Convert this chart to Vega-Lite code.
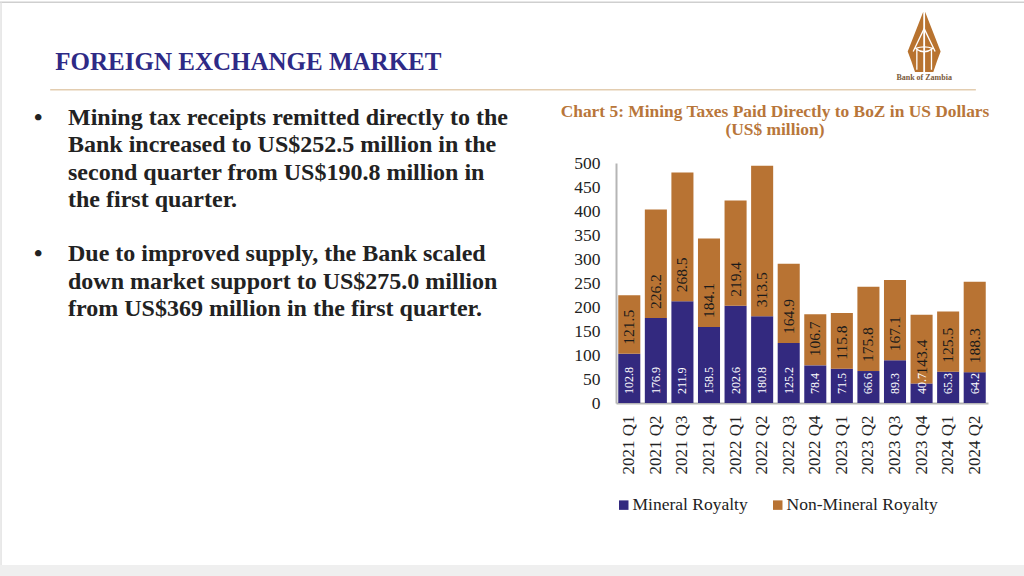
{
"$schema":"https://vega.github.io/schema/vega-lite/v6.json",
"width":372,"height":240,
"autosize":"none",
"padding":{"left":616,"top":163,"right":36,"bottom":173},
"background":"#ffffff",
"config":{"view":{"stroke":null},"font":"Liberation Serif"},
"title":{"text":["Chart 5: Mining Taxes Paid Directly to BoZ in US Dollars","(US$ million)"],"font":"Liberation Serif","fontSize":17.4,"fontWeight":"bold","color":"#B8763A","anchor":"middle","frame":"group","dx":-27,"offset":0,"dy":137,"lineHeight":18},
"resolve":{"scale":{"x":"independent","y":"independent"}},
"layer":[
{"data":{"values":[{"part":"bottom band"}]},"mark":{"type":"rect","color":"#EFEFEF"},
 "encoding":{"x":{"datum":0,"type":"quantitative","scale":{"domain":[0,1],"range":[-616,408]},"axis":null},"x2":{"datum":1},"y":{"datum":0.981,"type":"quantitative","scale":{"domain":[0,1],"range":[-163,413]},"axis":null},"y2":{"datum":1}}},
{"data":{"values":[{"part":"top edge"}]},"mark":{"type":"rule","color":"#CFCFCF","strokeWidth":1.5},
 "encoding":{"x":{"datum":0,"type":"quantitative","scale":{"domain":[0,1],"range":[-616,408]},"axis":null},"x2":{"datum":1},"y":{"datum":0.004,"type":"quantitative","scale":{"domain":[0,1],"range":[-163,413]},"axis":null}}},
{"data":{"values":[{"part":"left edge"}]},"mark":{"type":"rule","color":"#E2E2E2","strokeWidth":1.5},
 "encoding":{"x":{"datum":0.001,"type":"quantitative","scale":{"domain":[0,1],"range":[-616,408]},"axis":null},"y":{"datum":0.004,"type":"quantitative","scale":{"domain":[0,1],"range":[-163,413]},"axis":null},"y2":{"datum":0.981}}},
{"data":{"values":[{"part":"heading rule"}]},"mark":{"type":"rule","color":"#E3CDB0","strokeWidth":1.5},
 "encoding":{"x":{"datum":0.049,"type":"quantitative","scale":{"domain":[0,1],"range":[-616,408]},"axis":null},"x2":{"datum":0.953},"y":{"datum":0.156,"type":"quantitative","scale":{"domain":[0,1],"range":[-163,413]},"axis":null}}},
{"data":{"values":[{"part":"logo"}]},"mark":{"type":"point","filled":true,"color":"#B8732F","opacity":1,"size":3720,"shape":"M-0.03,-1L-0.54,0.3L-0.42,0.62L-0.3,0.97L-0.03,0.97ZM0.03,-1L0.54,0.3L0.42,0.62L0.3,0.97L0.03,0.97Z"},
 "encoding":{"x":{"datum":0.9025,"type":"quantitative","scale":{"domain":[0,1],"range":[-616,408]},"axis":null},"y":{"datum":0.0735,"type":"quantitative","scale":{"domain":[0,1],"range":[-163,413]},"axis":null}}},
{"data":{"values":[{"part":"logo detail"}]},"mark":{"type":"point","filled":false,"color":"#FFFFFF","opacity":1,"strokeWidth":1.3,"size":3720,"shape":"M-0.36,0.3L0,-0.45L0.36,0.3M-0.24,0.22L-0.24,0.9M0.24,0.22L0.24,0.9M-0.28,0.2Q0,0.1 0.28,0.2Q0,0.42 -0.28,0.2"},
 "encoding":{"x":{"datum":0.9025,"type":"quantitative","scale":{"domain":[0,1],"range":[-616,408]},"axis":null},"y":{"datum":0.0735,"type":"quantitative","scale":{"domain":[0,1],"range":[-163,413]},"axis":null}}},
{"data":{"values":[{"label":"Bank of Zambia"}]},"mark":{"type":"text","font":"Liberation Serif","fontWeight":"bold","fontSize":8,"color":"#7A5A3A","align":"center","baseline":"middle"},
 "encoding":{"text":{"field":"label"},"x":{"datum":0.9025,"type":"quantitative","scale":{"domain":[0,1],"range":[-616,408]},"axis":null},"y":{"datum":0.136,"type":"quantitative","scale":{"domain":[0,1],"range":[-163,413]},"axis":null}}},
{"data":{"values":[{"label":"FOREIGN EXCHANGE MARKET"}]},"mark":{"type":"text","font":"Liberation Serif","fontWeight":"bold","fontSize":25,"color":"#2E2A86","align":"left","baseline":"middle"},
 "encoding":{"text":{"field":"label"},"x":{"datum":0.054,"type":"quantitative","scale":{"domain":[0,1],"range":[-616,408]},"axis":null},"y":{"datum":0.108,"type":"quantitative","scale":{"domain":[0,1],"range":[-163,413]},"axis":null}}},
{"data":{"values":[
{"line":1,"role":"bullet","t":"•"},{"line":6,"role":"bullet","t":"•"},
{"line":1,"role":"text","t":"Mining tax receipts remitted directly to the"},
{"line":2,"role":"text","t":"Bank increased to US$252.5 million in the"},
{"line":3,"role":"text","t":"second quarter from US$190.8 million in"},
{"line":4,"role":"text","t":"the first quarter."},
{"line":6,"role":"text","t":"Due to improved supply, the Bank scaled"},
{"line":7,"role":"text","t":"down market support to US$275.0 million"},
{"line":8,"role":"text","t":"from US$369 million in the first quarter."}
]},
"mark":{"type":"text","font":"Liberation Serif","fontWeight":"bold","fontSize":24,"color":"#222222","align":"left","baseline":"middle"},
 "encoding":{"text":{"field":"t"},
 "x":{"field":"role","type":"nominal","scale":{"type":"point","padding":0,"domain":["bullet","text"],"range":[-582,-548]},"axis":null},
 "y":{"field":"line","type":"quantitative","scale":{"domain":[1,8],"range":[-45,146]},"axis":null}}},
{"data":{"values":[
{"quarter":"2021 Q1","series":"Mineral Royalty","value":102.8},{"quarter":"2021 Q2","series":"Mineral Royalty","value":176.9},{"quarter":"2021 Q3","series":"Mineral Royalty","value":211.9},{"quarter":"2021 Q4","series":"Mineral Royalty","value":158.5},{"quarter":"2022 Q1","series":"Mineral Royalty","value":202.6},{"quarter":"2022 Q2","series":"Mineral Royalty","value":180.8},{"quarter":"2022 Q3","series":"Mineral Royalty","value":125.2},{"quarter":"2022 Q4","series":"Mineral Royalty","value":78.4},{"quarter":"2023 Q1","series":"Mineral Royalty","value":71.5},{"quarter":"2023 Q2","series":"Mineral Royalty","value":66.6},{"quarter":"2023 Q3","series":"Mineral Royalty","value":89.3},{"quarter":"2023 Q4","series":"Mineral Royalty","value":40.7},{"quarter":"2024 Q1","series":"Mineral Royalty","value":65.3},{"quarter":"2024 Q2","series":"Mineral Royalty","value":64.2},
{"quarter":"2021 Q1","series":"Non-Mineral Royalty","value":121.5},{"quarter":"2021 Q2","series":"Non-Mineral Royalty","value":226.2},{"quarter":"2021 Q3","series":"Non-Mineral Royalty","value":268.5},{"quarter":"2021 Q4","series":"Non-Mineral Royalty","value":184.1},{"quarter":"2022 Q1","series":"Non-Mineral Royalty","value":219.4},{"quarter":"2022 Q2","series":"Non-Mineral Royalty","value":313.5},{"quarter":"2022 Q3","series":"Non-Mineral Royalty","value":164.9},{"quarter":"2022 Q4","series":"Non-Mineral Royalty","value":106.7},{"quarter":"2023 Q1","series":"Non-Mineral Royalty","value":115.8},{"quarter":"2023 Q2","series":"Non-Mineral Royalty","value":175.8},{"quarter":"2023 Q3","series":"Non-Mineral Royalty","value":167.1},{"quarter":"2023 Q4","series":"Non-Mineral Royalty","value":143.4},{"quarter":"2024 Q1","series":"Non-Mineral Royalty","value":125.5},{"quarter":"2024 Q2","series":"Non-Mineral Royalty","value":188.3}
]},
"transform":[{"stack":"value","groupby":["quarter"],"sort":[{"field":"series","order":"ascending"}],"as":["v0","v1"]}],
"encoding":{
 "x":{"field":"quarter","type":"nominal","title":null,"scale":{"paddingInner":0.17,"paddingOuter":0.085},
  "axis":{"labelAngle":270,"labelFont":"Liberation Serif","labelFontSize":17,"labelColor":"#222222","labelPadding":12,"ticks":false,"domainColor":"#B5B5B5","domainWidth":2,"grid":false}},
 "y":{"field":"v0","type":"quantitative","title":null,"scale":{"domain":[0,500],"nice":false},
  "axis":{"values":[0,50,100,150,200,250,300,350,400,450,500],"labelFont":"Liberation Serif","labelFontSize":17.5,"labelColor":"#222222","labelPadding":16,"ticks":false,"domainColor":"#B5B5B5","domainWidth":2,"grid":false}}
},
"layer":[
 {"mark":{"type":"bar"},
  "encoding":{"y2":{"field":"v1"},
   "color":{"field":"series","type":"nominal","title":null,"scale":{"domain":["Mineral Royalty","Non-Mineral Royalty"],"range":["#33297F","#B87333"]},
   "legend":{"orient":"none","legendX":-1,"legendY":333,"direction":"horizontal","columns":2,"symbolType":"square","symbolSize":90,"symbolStrokeWidth":0,"labelFont":"Liberation Serif","labelFontSize":17.5,"labelColor":"#222222","labelOffset":0,"columnPadding":21,"labelLimit":220}}}},
 {"transform":[{"filter":"datum.series === 'Mineral Royalty'"}],
  "mark":{"type":"text","angle":270,"align":"left","baseline":"middle","dx":9,"font":"Liberation Serif","fontSize":12,"color":"#FFFFFF"},
  "encoding":{"text":{"field":"value","type":"quantitative","format":".1f"}}},
 {"transform":[{"filter":"datum.series === 'Non-Mineral Royalty'"}],
  "mark":{"type":"text","angle":270,"align":"left","baseline":"middle","dx":9,"font":"Liberation Serif","fontSize":15.5,"color":"#1A1A1A"},
  "encoding":{"text":{"field":"value","type":"quantitative","format":".1f"}}}
]}
]
}
